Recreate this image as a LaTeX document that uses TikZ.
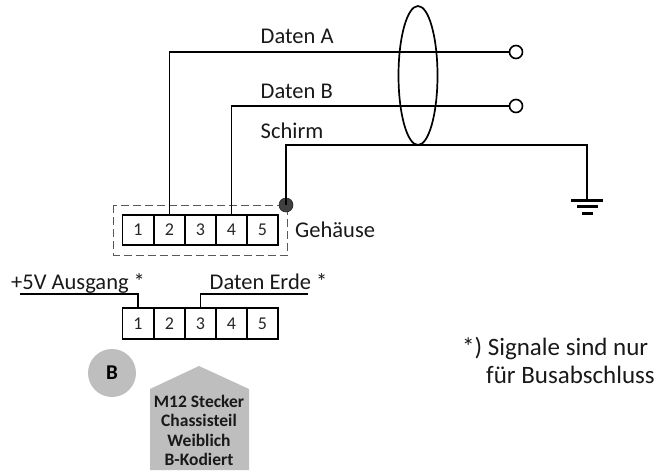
\documentclass[tikz,border=0pt]{standalone}
\usepackage{fontspec}
\usetikzlibrary{shapes.geometric}
\setmainfont{Carlito}
\definecolor{gfill}{HTML}{BEBEBE}
\tikzset{
  x=1pt,y=-1pt,
  cell/.style={draw=black,line width=1.9pt,minimum width=31pt,minimum height=30.5pt,inner sep=0pt,font=\fontsize{18}{20}\selectfont,text=black!85},
  lbl/.style={inner sep=0pt,anchor=base west,font=\fontsize{22.5}{26}\selectfont,text=black!90},
  note/.style={lbl,font=\fontsize{25}{30}\selectfont},
  wire/.style={draw=black,line width=1.9pt},
  term/.style={circle,draw=black,line width=1.6pt,fill=white,minimum size=13pt,inner sep=0pt},
  gbar/.style={draw=black,line width=3pt},
}
\begin{document}
\begin{tikzpicture}
\useasboundingbox (0,0) rectangle (660,471);
% top connector
\foreach \n/\xx in {1/138,2/169.5,3/200.5,4/231.5,5/262.5}{
  \node[cell] (t\n) at (\xx,230) {\n};
  \node[cell] (b\n) at (\xx,323.5) {\n};
}
\draw[draw=black!65,line width=1pt,dash pattern=on 8pt off 4pt] (113.5,205) rectangle (287,255);
% shield ellipse
\node[draw=black,line width=1.7pt,ellipse,minimum width=39pt,minimum height=139pt,inner sep=0pt] (shield) at (418,75.5) {};
% terminals
\node[term] (ta) at (516,52) {};
\node[term] (tb) at (516,106) {};
\coordinate (gnd) at (587,200);
\node[circle,fill=black!75,draw=black!85,line width=.6pt,minimum size=14pt,inner sep=0pt] (dot) at (286,205) {};
% wires
\draw[wire] (t2.north) |- (ta.west);
\draw[wire] (t4.north) |- (tb.west);
\draw[wire] (dot.center) |- (418,145) -| (gnd);
% ground
\draw[gbar] (571,200) -- (603,200);
\draw[gbar] (577,206.5) -- (598,206.5);
\draw[gbar] (582,213) -- (593,213);
% labels
\node[lbl] (la) at (260.5,43.5) {Daten A};
\node[lbl] (lb) at (260.5,98.5) {Daten B};
\node[lbl] (ls) at (260.5,138.5) {Schirm};
\node[lbl] (lg) at (295,237.5) {Gehäuse};
\node[lbl] (l5) at (11,289) {+5V Ausgang *};
\node[lbl] (lde) at (209.5,289) {Daten Erde *};
\coordinate (e5) at (20,294);
\coordinate (ed) at (308,294);
\draw[wire] (e5) -| (b1.north);
\draw[wire] (ed) -| (b3.north);
% key B
\node[circle,fill=gfill,minimum size=48pt,inner sep=0pt,font=\fontsize{21}{24}\selectfont\bfseries] (key) at (112,373) {B};
% housing
\fill[gfill] (150,389) -- (199,366) -- (249,389) -- (249,470) -- (150,470) -- cycle;
\node[inner sep=0pt,align=center,font=\fontsize{17.5}{19.2}\selectfont\bfseries,text=black!90] (m12) at (199,430.5) {M12 Stecker\\Chassisteil\\Weiblich\\B-Kodiert};
% note
\node[note] (n1) at (462,355) {*) Signale sind nur};
\node[note] (n2) at (486,383) {für Busabschluss};
\end{tikzpicture}
\end{document}
